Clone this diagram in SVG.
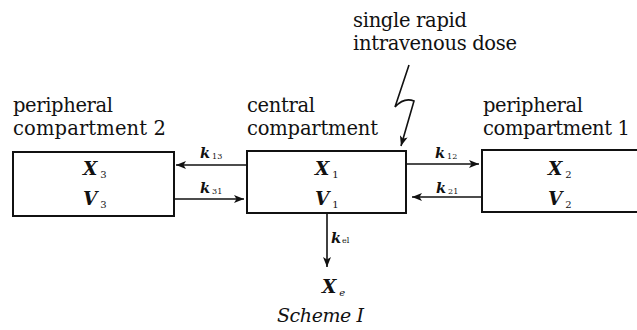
<svg xmlns="http://www.w3.org/2000/svg" width="637" height="330" viewBox="0 0 637 330">
<style>
.lbl{font-family:'DejaVu Serif','Liberation Serif',serif;font-size:19.5px;fill:#111}
.box{fill:#fff;stroke:#111;stroke-width:2}
.var{font-family:'DejaVu Serif','Liberation Serif',serif;font-size:18.5px;font-style:italic;font-weight:bold;fill:#111}
.sub{font-size:10px;font-style:normal;font-weight:normal;fill:#111}
.k{font-family:'DejaVu Serif','Liberation Serif',serif;font-size:14.5px;font-style:italic;font-weight:bold;fill:#111}
.ksub{font-size:8px;font-style:normal;font-weight:normal;fill:#111}
.conn{fill:none;stroke:#111;stroke-width:1.6}
.cap{font-family:'DejaVu Serif','Liberation Serif',serif;font-size:19px;font-style:italic;fill:#111}
</style>
<defs>
<marker id="ah" viewBox="0 0 10 8" refX="10" refY="4" markerWidth="11" markerHeight="8" markerUnits="userSpaceOnUse" orient="auto">
<path d="M0,0 L10,4 L0,8 L2.5,4 Z" fill="#111"/>
</marker>
</defs>

<g id="dose-label">
<text class="lbl" x="353" y="27" textLength="114" lengthAdjust="spacing">single rapid</text>
<text class="lbl" x="353" y="50" textLength="164" lengthAdjust="spacing">intravenous dose</text>
</g>

<g id="peripheral2">
<text class="lbl" x="13" y="112" textLength="100" lengthAdjust="spacing">peripheral</text>
<text class="lbl" x="13" y="135" textLength="153" lengthAdjust="spacing">compartment 2</text>
<rect class="box" x="13" y="152" width="161" height="64"/>
<text class="var" x="83" y="175">X<tspan class="sub" dx="3" dy="3">3</tspan></text>
<text class="var" x="83" y="205">V<tspan class="sub" dx="3" dy="3">3</tspan></text>
</g>

<g id="central">
<text class="lbl" x="247" y="112" textLength="68" lengthAdjust="spacing">central</text>
<text class="lbl" x="247" y="135" textLength="131" lengthAdjust="spacing">compartment</text>
<rect class="box" x="247" y="151" width="159" height="62"/>
<text class="var" x="315" y="175">X<tspan class="sub" dx="3" dy="3">1</tspan></text>
<text class="var" x="315" y="205">V<tspan class="sub" dx="3" dy="3">1</tspan></text>
</g>

<g id="peripheral1">
<text class="lbl" x="483" y="112" textLength="100" lengthAdjust="spacing">peripheral</text>
<text class="lbl" x="483" y="135" textLength="147" lengthAdjust="spacing">compartment 1</text>
<rect class="box" x="482" y="150" width="170" height="62"/>
<text class="var" x="548" y="175">X<tspan class="sub" dx="3" dy="3">2</tspan></text>
<text class="var" x="548" y="205">V<tspan class="sub" dx="3" dy="3">2</tspan></text>
</g>

<g id="eliminated">
<text class="var" x="322" y="293">X<tspan class="sub" dx="3" dy="3" style="font-style:italic">e</tspan></text>
</g>

<g id="connectors">
<path class="conn" d="M247,165 L176,165" marker-end="url(#ah)"/>
<text class="k" x="200" y="158">k<tspan class="ksub" dx="2" dy="1">13</tspan></text>
<path class="conn" d="M174,199 L244,199" marker-end="url(#ah)"/>
<text class="k" x="200" y="193">k<tspan class="ksub" dx="2" dy="1">31</tspan></text>
<path class="conn" d="M406,164 L479,164" marker-end="url(#ah)"/>
<text class="k" x="435" y="158">k<tspan class="ksub" dx="2" dy="1">12</tspan></text>
<path class="conn" d="M482,197 L412,197" marker-end="url(#ah)"/>
<text class="k" x="436" y="193">k<tspan class="ksub" dx="2" dy="1">21</tspan></text>
<path class="conn" d="M327,213 L327,267" marker-end="url(#ah)"/>
<text class="k" x="331" y="243">k<tspan class="ksub" dx="1" dy="0">el</tspan></text>
<path class="conn" d="M409,65 L395,107 Q404,97 414,101 L401,146" marker-end="url(#ah)"/>
</g>

<g id="caption">
<text class="cap" x="277" y="322" textLength="87" lengthAdjust="spacing">Scheme I</text>
</g>
</svg>
